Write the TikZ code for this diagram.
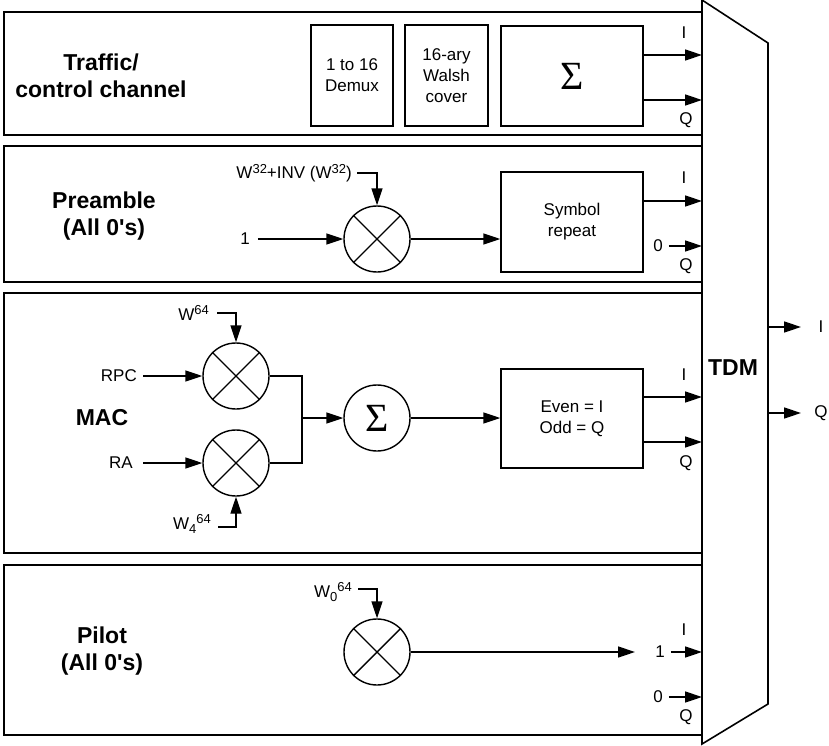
\documentclass[tikz,border=0pt]{standalone}
\usepackage{fontspec}
\setmainfont{Liberation Sans}
\newfontfamily\sigfont{Liberation Serif}
\usetikzlibrary{arrows.meta}
\tikzset{
  panel/.style={draw, line width=1.6pt},
  blk/.style={draw, line width=1.4pt, align=center, inner sep=0pt, font=\fontsize{17}{21}\selectfont},
  mult/.style={draw, circle, line width=1.4pt, minimum size=66pt, inner sep=0pt},
  arr/.style={-{Triangle[length=17pt,width=11pt]}, line width=1.4pt},
  wire/.style={line width=1.4pt},
  lbl/.style={inner sep=0pt, font=\fontsize{17}{21}\selectfont},
  ttl/.style={inner sep=0pt, align=center, font=\fontsize{23}{27}\selectfont\bfseries},
}
\newcommand{\sigsym}{{\sigfont\fontsize{40}{40}\selectfont Σ}}
\newcommand{\supx}[1]{\raisebox{5.5pt}{\fontsize{13}{13}\selectfont #1}}
\newcommand{\subx}[1]{\raisebox{-4pt}{\fontsize{13}{13}\selectfont #1}}
\newcommand{\xcross}[1]{\draw[wire] (#1.north east) -- (#1.south west); \draw[wire] (#1.north west) -- (#1.south east);}
\begin{document}
\begin{tikzpicture}[x=1pt,y=-1pt]
\useasboundingbox (0,0) rectangle (829,746);
% panels
\draw[panel] (4,12) rectangle (702,135);
\draw[panel] (4,146) rectangle (702,282);
\draw[panel] (4,293) rectangle (702,553);
\draw[panel] (4,565) rectangle (702,735);
% TDM
\draw[panel, fill=white] (702,0) -- (768,43) -- (768,704) -- (702,744) -- cycle;
\node[ttl] (tdm) at (733,368) {TDM};
\coordinate (oi) at (801,327);
\coordinate (oq) at (801,413);
\draw[arr] (768,327) -- (oi);
\draw[arr] (768,413) -- (oq);
\node[lbl] (oil) at (821,327) {I};
\node[lbl] (oql) at (821,413) {Q};

% Panel 1: Traffic
\node[ttl] (t1) at (101,76) {Traffic/\\control channel};
\node[blk, minimum width=82pt, minimum height=101pt] (demux) at (352,75.5) {1 to 16\\Demux};
\node[blk, minimum width=83pt, minimum height=101pt] (walsh) at (446.5,75.5) {16-ary\\Walsh\\cover};
\node[blk, minimum width=142pt, minimum height=100pt] (sum1) at (572,76) {\sigsym};
\coordinate (t1i) at (702,55);
\coordinate (t1q) at (702,100);
\draw[arr] (sum1.east |- t1i) -- (t1i);
\draw[arr] (sum1.east |- t1q) -- (t1q);
\node[lbl] (l1i) at (684,33) {I};
\node[lbl] (l1q) at (686,120) {Q};

% Panel 2: Preamble
\node[ttl] (t2) at (104,216) {Preamble\\(All 0\textquotesingle s)};
\node[mult] (m1) at (377,239) {};
\xcross{m1}
\node[lbl, anchor=east] (w32) at (352,173) {W\supx{32}+INV (W\supx{32})};
\draw[arr] ([xshift=5pt]w32.east) -| (m1.north);
\node[lbl] (one) at (245,239) {1};
\draw[arr] ([xshift=8pt]one.east |- m1.west) -- (m1.west);
\node[blk, minimum width=142pt, minimum height=100pt] (rep) at (572,222) {Symbol\\repeat};
\draw[arr] (m1.east) -- (m1.east -| rep.west);
\coordinate (t2i) at (702,201);
\coordinate (t2q) at (702,246);
\draw[arr] (rep.east |- t2i) -- (t2i);
\node[lbl] (z2) at (658,246) {0};
\draw[arr] ([xshift=6pt]z2.east |- t2q) -- (t2q);
\node[lbl] (l2i) at (684,178) {I};
\node[lbl] (l2q) at (686,266) {Q};

% Panel 3: MAC
\node[ttl] (t3) at (102,418) {MAC};
\node[mult] (ma) at (236,376) {};
\xcross{ma}
\node[mult] (mb) at (236,463) {};
\xcross{mb}
\node[lbl, anchor=east] (w64) at (209,313) {W\supx{64}};
\draw[arr] ([xshift=8pt]w64.east |- 0,313) -| (ma.north);
\node[lbl, anchor=east] (rpc) at (137,376) {RPC};
\draw[arr] ([xshift=6pt]rpc.east |- ma.west) -- (ma.west);
\node[lbl, anchor=east] (ra) at (133,463) {RA};
\draw[arr] ([xshift=10pt]ra.east |- mb.west) -- (mb.west);
\node[lbl, anchor=east] (w4) at (211,524) {W\subx{4}\supx{64}};
\draw[arr] ([xshift=7pt]w4.east |- 0,527) -| (mb.south);
\coordinate (j) at (302,418);
\draw[wire] (ma.east) -| (j);
\draw[wire] (mb.east) -| (j);
\node[mult] (s3) at (377,418) {\sigsym};
\draw[arr] (j) -- (s3.west);
\node[blk, minimum width=142pt, minimum height=99pt] (eo) at (572,418.5) {Even = I\\Odd = Q};
\draw[arr] (s3.east) -- (s3.east -| eo.west);
\coordinate (t3i) at (702,397);
\coordinate (t3q) at (702,442);
\draw[arr] (eo.east |- t3i) -- (t3i);
\draw[arr] (eo.east |- t3q) -- (t3q);
\node[lbl] (l3i) at (684,375) {I};
\node[lbl] (l3q) at (686,463) {Q};

% Panel 4: Pilot
\node[ttl] (t4) at (102,651) {Pilot\\(All 0\textquotesingle s)};
\node[mult] (m4) at (377,652) {};
\xcross{m4}
\node[lbl, anchor=east] (w0) at (352,592) {W\subx{0}\supx{64}};
\draw[arr] ([xshift=6pt]w0.east |- 0,589) -| (m4.north);
\coordinate (pend) at (635,652);
\draw[arr] (m4.east) -- (pend);
\node[lbl] (one4) at (660,652) {1};
\coordinate (t4i) at (702,652);
\coordinate (t4q) at (702,697);
\draw[arr] ([xshift=6pt]one4.east |- t4i) -- (t4i);
\node[lbl] (z4) at (658,697) {0};
\draw[arr] ([xshift=6pt]z4.east |- t4q) -- (t4q);
\node[lbl] (l4i) at (684,630) {I};
\node[lbl] (l4q) at (686,717) {Q};
\end{tikzpicture}
\end{document}
